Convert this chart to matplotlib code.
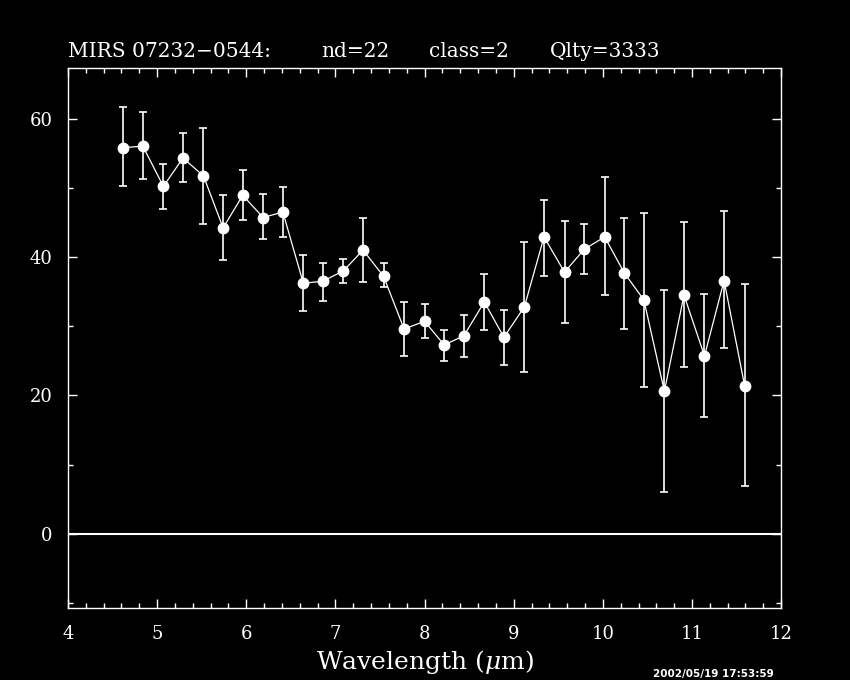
import numpy as np
import matplotlib
matplotlib.use("Agg")
import matplotlib.pyplot as plt
from matplotlib.ticker import MultipleLocator

# ----------------------------------------------------------------------
# Spectrum values
# ----------------------------------------------------------------------
wavelength = [4.62, 4.84, 5.07, 5.29, 5.52, 5.74, 5.96, 6.19, 6.41, 6.64,
              6.86, 7.09, 7.31, 7.54, 7.77, 8.00, 8.22, 8.44, 8.67, 8.89,
              9.12, 9.34, 9.57, 9.79, 10.02, 10.24, 10.46, 10.69, 10.91,
              11.14, 11.36, 11.59]
flux = [55.8, 56.0, 50.2, 54.3, 51.7, 44.2, 48.9, 45.7, 46.5, 36.2,
        36.5, 38.0, 41.0, 37.2, 29.6, 30.7, 27.3, 28.6, 33.5, 28.4,
        32.8, 42.9, 37.8, 41.1, 42.9, 37.7, 33.8, 20.6, 34.5, 25.7,
        36.6, 21.4]
err_top = [61.6, 60.9, 53.4, 57.9, 58.6, 48.9, 52.5, 49.1, 50.1, 40.3,
           39.1, 39.7, 45.7, 39.1, 33.5, 33.2, 29.4, 31.6, 37.5, 32.3,
           42.1, 48.3, 45.2, 44.7, 51.5, 45.7, 46.3, 35.2, 45.0, 34.6,
           46.6, 36.1]
err_bot = [50.2, 51.2, 46.9, 50.9, 44.7, 39.5, 45.3, 42.6, 42.9, 32.2,
           33.6, 36.2, 36.4, 35.6, 25.7, 28.3, 25.0, 25.5, 29.4, 24.4,
           23.4, 37.2, 30.4, 37.5, 34.5, 29.6, 21.2, 6.1, 24.1, 16.9,
           26.8, 6.9]

# header pieces, spaced out like the original PGPLOT label
title_parts = ["MIRS 07232\u22120544:", "nd=22", "class=2", "Qlty=3333"]
title_x = [0.080, 0.378, 0.505, 0.647]
stamp = "2002/05/19 17:53:59"

flux = np.array(flux)
yerr = [flux - np.array(err_bot), np.array(err_top) - flux]

plt.rcParams['font.family'] = ['DejaVu Serif']
plt.rcParams['mathtext.fontset'] = 'dejavuserif'

fig = plt.figure(figsize=(8.5, 6.8), dpi=100, facecolor='black')
ax = fig.add_axes([0.08, 0.106, 0.839, 0.794], facecolor='black')

ax.axhline(0, color='white', lw=1.5, zorder=1)
ax.errorbar(wavelength, flux, yerr=yerr, fmt='o-', color='white',
            ms=7.5, lw=0.9, elinewidth=1.2, capsize=3, capthick=1.2, zorder=3)

ax.set_xlim(4, 12)
ax.set_ylim(-10.7, 67.3)
ax.xaxis.set_major_locator(MultipleLocator(1))
ax.xaxis.set_minor_locator(MultipleLocator(0.2))
ax.yaxis.set_major_locator(MultipleLocator(20))
ax.yaxis.set_minor_locator(MultipleLocator(10))
ax.tick_params(which='both', direction='in', top=True, right=True,
               colors='white', labelsize=13)
ax.tick_params(axis='x', pad=12)
ax.tick_params(axis='y', pad=11)
ax.tick_params(which='major', length=6.5, width=1.0)
ax.tick_params(which='minor', length=3.5, width=1.0)
for s in ax.spines.values():
    s.set_color('white')
    s.set_linewidth(1.0)

fig.text(0.4995, 0.027, r'Wavelength ($\mu$m)', color='white', fontsize=18,
         ha='center', va='center')
for txt, xp in zip(title_parts, title_x):
    fig.text(xp, 0.916, txt, color='white', fontsize=14.5, ha='left', va='baseline')
fig.text(0.768, 0.002, stamp, color='white', fontsize=7.5, ha='left',
         va='bottom', weight='bold', family='DejaVu Sans')

fig.savefig('out.png', dpi=100, facecolor='black')
